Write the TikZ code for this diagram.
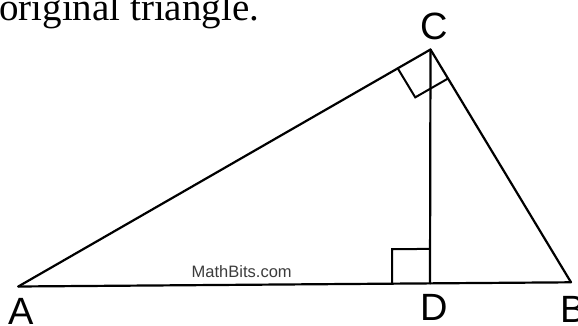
\documentclass[tikz,border=0pt]{standalone}
\usepackage{fontspec}
\setmainfont{Liberation Serif}
\newfontfamily\labfont{Liberation Sans}
\usetikzlibrary{calc}
\definecolor{mbgray}{RGB}{60,60,60}
\begin{document}
\begin{tikzpicture}[x=1pt,y=-1pt,
  edge/.style={line width=2.2pt,black,line join=round,line cap=round},
  rightmark/.style={line width=2pt,black,line join=miter},
  vlabel/.style={font=\labfont\fontsize{38}{38}\selectfont,inner sep=0pt,anchor=base}]
\useasboundingbox (0,0) rectangle (578,326);
\fill[white] (0,0) rectangle (578,326);
% vertices
\coordinate (A) at (18.3,286.5);
\coordinate (B) at (571,282.3);
\coordinate (C) at (430.5,49.5);
\coordinate (D) at (430,283.4);
% top text
\node[anchor=base west,inner sep=0pt,font=\fontsize{39}{39}\selectfont] (txt) at (-1,21) {original triangle.};
% triangle
\draw[edge] (A) -- (B);
\draw[edge] (A) -- (C);
\draw[edge] (C) -- (B);
\draw[edge] (C) -- (D);
% right angle at D
\coordinate (D1) at ($(D)!38pt!(A)$);
\draw[rightmark] (D1) -- ($(D1)+(0,-34.5)$) -- ($(D)+(0,-34.5)$);
% right angle at C
\coordinate (C1) at ($(C)!37.8pt!(A)$);
\coordinate (C2) at ($(C)!33.9pt!(B)$);
\draw[rightmark] (C1) -- ($(C1)+(C2)-(C)$) -- (C2);
% labels
\node[vlabel] (lC) at (434,39.5) {C};
\node[vlabel] (lA) at (21,324) {A};
\node[vlabel] (lD) at (434.7,320) {D};
\node[vlabel] (lB) at (573,322) {B};
\node[font=\labfont\fontsize{16.5}{16.5}\selectfont,text=mbgray,inner sep=0pt] (mb) at (241.7,271.7) {MathBits.com};
\end{tikzpicture}
\end{document}
